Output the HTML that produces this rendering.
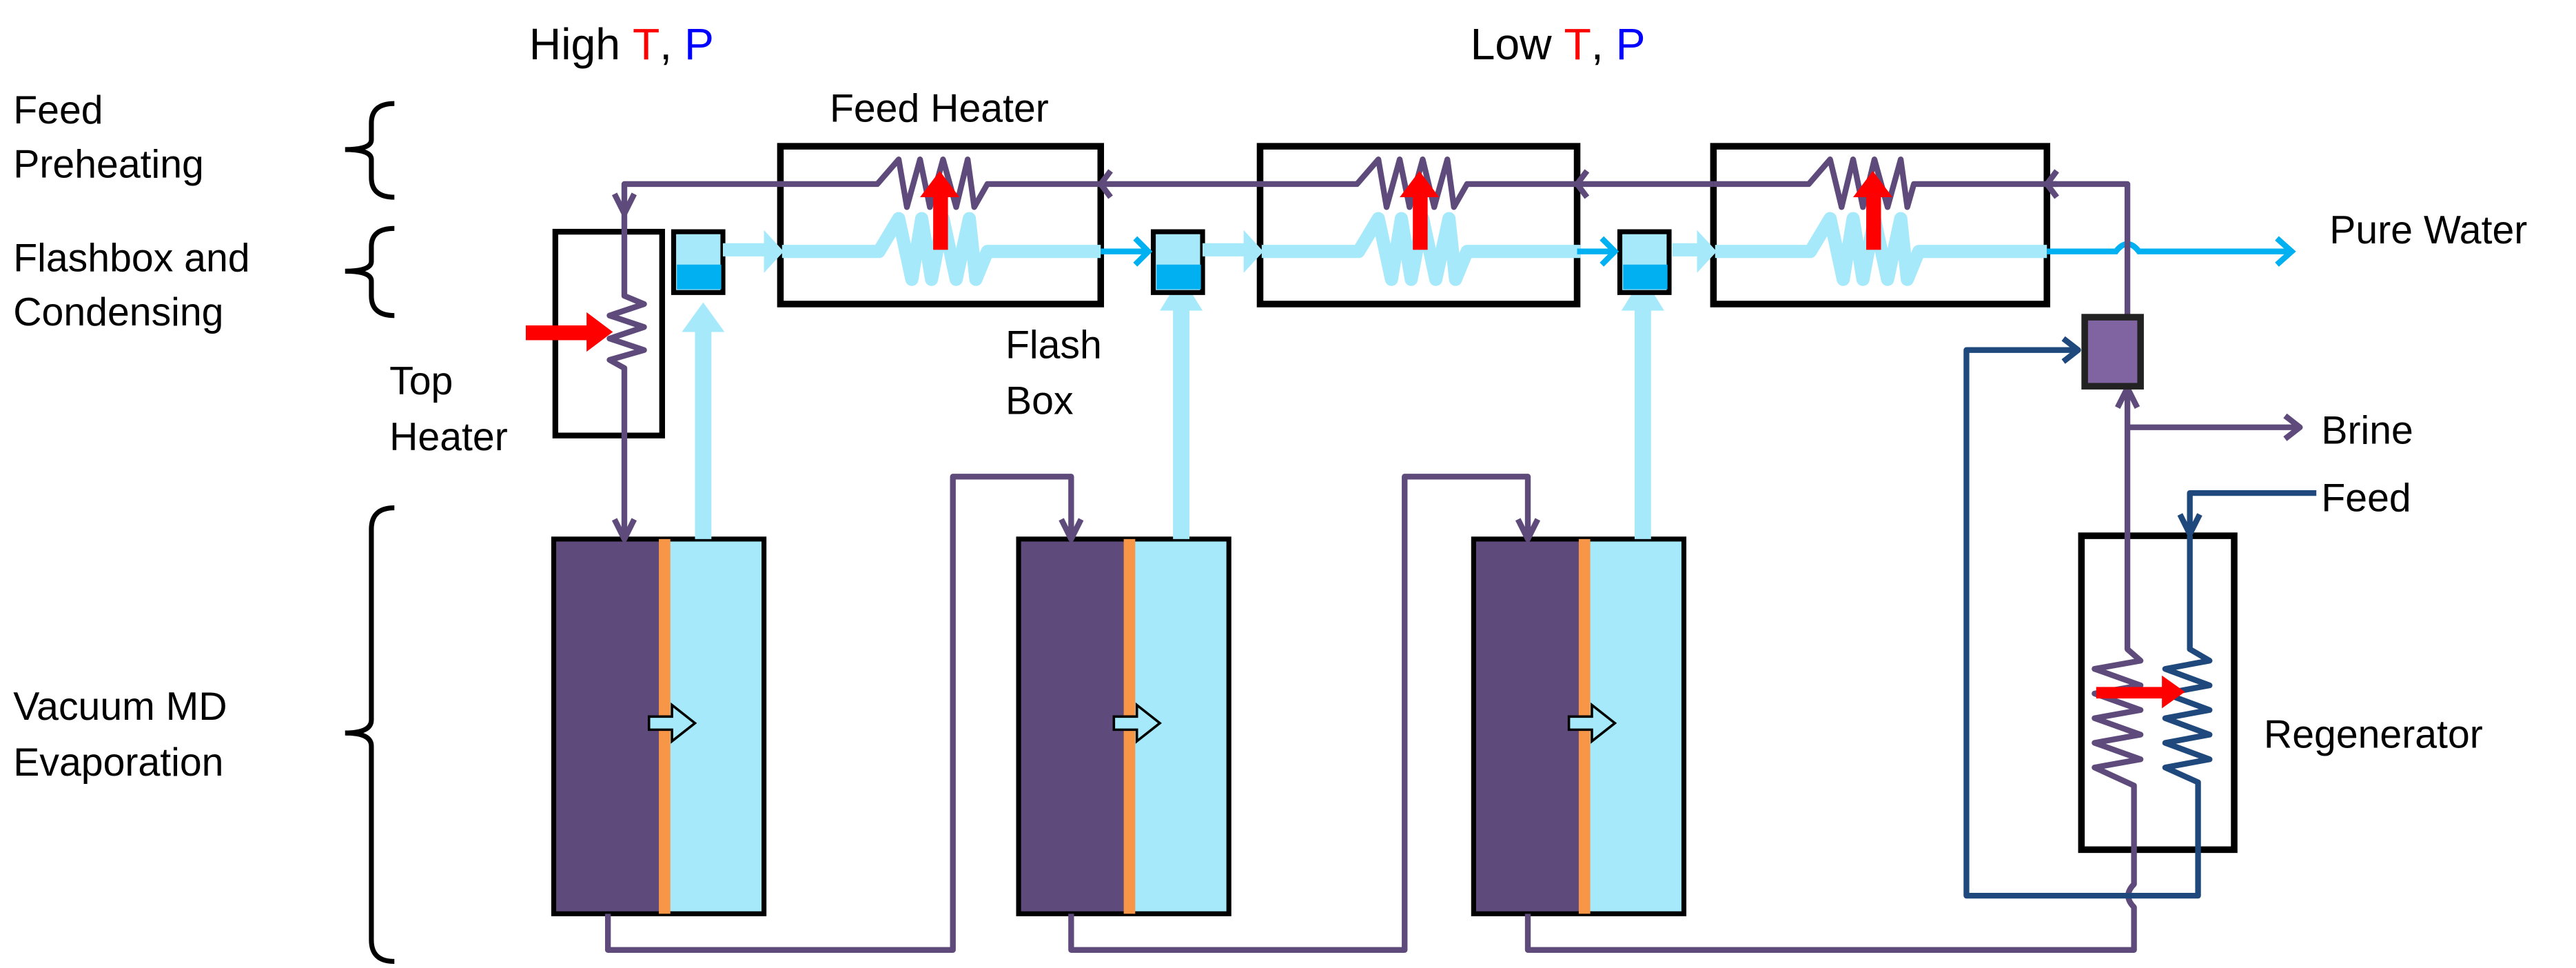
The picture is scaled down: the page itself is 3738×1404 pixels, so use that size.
<!DOCTYPE html>
<html><head><style>html,body{margin:0;padding:0;background:#fff}svg{display:block}</style></head>
<body>
<svg width="3738" height="1404" viewBox="0 0 1568 589" xmlns="http://www.w3.org/2000/svg" font-family="Liberation Sans, Arial, sans-serif">
<rect width="1568" height="589" fill="#fff"/>
<g font-size="27" fill="#000">
<text x="322" y="36">High <tspan fill="#f00">T</tspan>, <tspan fill="#00f">P</tspan></text>
<text x="895" y="36">Low <tspan fill="#f00">T</tspan>, <tspan fill="#00f">P</tspan></text>
</g>
<g font-size="24" fill="#000">
<text x="8" y="75">Feed</text><text x="8" y="108">Preheating</text>
<text x="8" y="165">Flashbox and</text><text x="8" y="198">Condensing</text>
<text x="8" y="438">Vacuum MD</text><text x="8" y="472">Evaporation</text>
<text x="505" y="74">Feed Heater</text>
<text x="237" y="240">Top</text><text x="237" y="274">Heater</text>
<text x="612" y="218">Flash</text><text x="612" y="252">Box</text>
<text x="1418" y="148">Pure Water</text>
<text x="1413" y="270">Brine</text>
<text x="1413" y="311">Feed</text>
<text x="1378" y="455">Regenerator</text>
</g>
<g fill="none" stroke="#000" stroke-width="3">
<path d="M240,63 Q226,63 226,75 L226,85 Q226,91 210,91 Q226,91 226,97 L226,108 Q226,120 240,120"/>
<path d="M240,139 Q226,139 226,150 L226,159 Q226,165 210,165 Q226,165 226,171 L226,180 Q226,192 240,192"/>
<path d="M240,309 Q226,309 226,322 L226,438 Q226,446 210,446 Q226,446 226,454 L226,572 Q226,585 240,585"/>
</g>
<g>
<rect x="337" y="328" width="66" height="228" fill="#5f4b7b"/><rect x="407" y="328" width="58" height="228" fill="#a6e9fb"/><rect x="337" y="328" width="128" height="228" fill="none" stroke="#000" stroke-width="3"/><rect x="401" y="328" width="7" height="228" fill="#f79646"/>
<rect x="620" y="328" width="66" height="228" fill="#5f4b7b"/><rect x="690" y="328" width="58" height="228" fill="#a6e9fb"/><rect x="620" y="328" width="128" height="228" fill="none" stroke="#000" stroke-width="3"/><rect x="684" y="328" width="7" height="228" fill="#f79646"/>
<rect x="897" y="328" width="66" height="228" fill="#5f4b7b"/><rect x="967" y="328" width="58" height="228" fill="#a6e9fb"/><rect x="897" y="328" width="128" height="228" fill="none" stroke="#000" stroke-width="3"/><rect x="961" y="328" width="7" height="228" fill="#f79646"/>
</g>
<g fill="#a6e9fb" stroke="#000" stroke-width="1.5">
<path d="M395,436 h14 v-7 l14,11 -14,11 v-7 h-14z"/>
<path d="M678,436 h14 v-7 l14,11 -14,11 v-7 h-14z"/>
<path d="M955,436 h14 v-7 l14,11 -14,11 v-7 h-14z"/>
</g>
<g fill="#a6e9fb">
<rect x="423" y="200" width="10" height="128"/><path d="M415,202 L428,184 L441,202z"/>
<rect x="714" y="185" width="10" height="143"/><path d="M706,189 L719,168 L732,189z"/>
<rect x="995" y="185" width="10" height="143"/><path d="M987,189 L1000,168 L1013,189z"/>
</g>
<g fill="none" stroke="#000" stroke-width="4">
<rect x="475" y="89" width="195" height="96"/>
<rect x="767" y="89" width="193" height="96"/>
<rect x="1043" y="89" width="203" height="96"/>
<rect x="338" y="141" width="65" height="124" stroke-width="3.5"/>
<rect x="1267" y="326" width="93" height="191"/>
</g>
<g>
<rect x="410" y="141" width="30" height="37" fill="#a6e9fb" stroke="#000" stroke-width="3"/><rect x="412" y="161" width="27" height="15" fill="#00b0f0"/>
<rect x="702" y="141" width="30" height="37" fill="#a6e9fb" stroke="#000" stroke-width="3"/><rect x="704" y="161" width="27" height="15" fill="#00b0f0"/>
<rect x="986" y="141" width="30" height="37" fill="#a6e9fb" stroke="#000" stroke-width="3"/><rect x="988" y="161" width="27" height="15" fill="#00b0f0"/>
</g>
<!-- distillate line with coils -->
<g fill="none" stroke="#a6e9fb" stroke-width="8" stroke-linejoin="round">
<g id="lc"><path d="M440,152 H466 M476,153 H535 L547,133 L555,170 L561,133 L567,170 L574,133 L582,170 L590,133 L594,170 L601,153 H670"/></g>
<use href="#lc" transform="translate(292,0)"/>
<path d="M1018,152 H1034 M1044,153 H1102 L1114,133 L1122,170 L1128,133 L1134,170 L1141,133 L1149,170 L1157,133 L1161,170 L1168,153 H1246"/>
</g>
<g fill="#a6e9fb"><path d="M465,140 L477,153 L465,166z"/><path d="M757,140 L769,153 L757,166z"/><path d="M1033,140 L1045,153 L1033,166z"/></g>
<g fill="none" stroke="#00b0f0" stroke-width="3.5">
<path d="M670,153 H699 M691,145 L699,153 L691,161"/>
<path d="M960,153 H983 M975,145 L983,153 L975,161"/>
<path d="M1246,153 H1288 Q1295,144 1302,153 H1395 M1386,145 L1395,153 L1386,161"/>
</g>
<g fill="none" stroke="#5f4b7b" stroke-width="3.5" stroke-linejoin="round">
<path d="M1295,193 V112 H1168 L1165,112 L1161,126 L1157,97 L1149,126 L1141,97 L1134,126 L1128,97 L1121,126 L1114,97 L1101,112 H1043"/>
<path d="M1043,112 H960 M966,104 L960,112 L966,120"/>
<path d="M1246,112 H1252 M1252,104 L1246,112 L1252,120"/>
<path d="M960,112 H893 L885,126 L881,97 L873,126 L866,97 L858,126 L852,97 L844,126 L839,97 L826,112 H767 M767,112 H670 M676,104 L670,112 L676,120"/>
<path d="M670,112 H601 L593,126 L589,97 L582,126 L574,97 L566,126 L560,97 L552,126 L547,97 L534,112 H380 V180 L392,185 L371,192 L392,199 L371,206 L392,213 L371,219 L380,224 V328"/>
<path d="M374,118 L380,130 L386,118 M374,316 L380,328 L386,316"/>
<path d="M370,556 V578 H580 V290 H652 V328 M646,316 L652,328 L658,316"/>
<path d="M652,556 V578 H855 V290 H930 V328 M924,316 L930,328 L936,316"/>
<path d="M930,556 V578 H1299 V552 Q1292,545 1299,538 V478 L1275,467 L1303,462 L1275,452 L1303,447 L1275,437 L1303,432 L1275,422 L1303,417 L1275,407 L1303,402 L1295,395 V236"/>
<path d="M1289,248 L1295,236 L1301,248 M1295,260 H1400 M1391,253 L1400,260 L1391,267"/>
</g>
<rect x="1269" y="193" width="34" height="42" fill="#8064a2" stroke="#222" stroke-width="4"/>
<g fill="none" stroke="#1f497d" stroke-width="3.5" stroke-linejoin="round">
<path d="M1410,300 H1333 V325 M1327,313 L1333,325 L1339,313"/>
<path d="M1333,326 V395 L1345,402 L1318,407 L1345,417 L1318,422 L1345,432 L1318,437 L1345,447 L1318,452 L1345,462 L1318,467 L1338,476 V545 H1197 V213 H1265 M1256,206 L1265,213 L1256,220"/>
</g>
<g fill="#f00">
<rect x="568" y="117" width="9" height="35"/><path d="M560,120 L572,104 L584,120z"/>
<rect x="860" y="117" width="9" height="35"/><path d="M852,120 L864,104 L876,120z"/>
<rect x="1136" y="117" width="9" height="35"/><path d="M1128,120 L1140,104 L1152,120z"/>
<rect x="320" y="198" width="40" height="9"/><path d="M357,190 L373,202 L357,214z"/>
<rect x="1276" y="418" width="44" height="7"/><path d="M1316,411 L1330,421 L1316,431z"/>
</g>
</svg>
</body></html>
